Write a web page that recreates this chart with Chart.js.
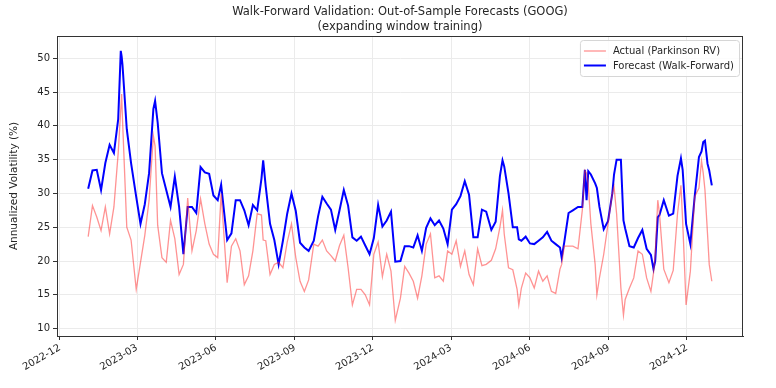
<!DOCTYPE html>
<html>
<head>
<meta charset="utf-8">
<title>Walk-Forward Validation</title>
<script src="https://cdn.jsdelivr.net/npm/chart.js@4.4.0/dist/chart.umd.min.js"></script>
<style>
    html, body { margin: 0; padding: 0; background: #fff; }
    #wrap { width: 776px; height: 388px; }
</style>
</head>
<body>
<div id="wrap"><canvas id="chart" width="776" height="388"></canvas></div>
<script>
// Sample dates (roughly every 5 days, extra points at peaks)
const dates = [
    '2023-01-03', '2023-01-08', '2023-01-13', '2023-01-18', '2023-01-23', '2023-01-28',
    '2023-02-02', '2023-02-07', '2023-02-10', '2023-02-11', '2023-02-12', '2023-02-17',
    '2023-02-22', '2023-02-28', '2023-03-05', '2023-03-10', '2023-03-15', '2023-03-20',
    '2023-03-22', '2023-03-25', '2023-03-30', '2023-04-04', '2023-04-09', '2023-04-14',
    '2023-04-19', '2023-04-24', '2023-04-29', '2023-05-04', '2023-05-09', '2023-05-14',
    '2023-05-19', '2023-05-24', '2023-05-29', '2023-06-03', '2023-06-07', '2023-06-14',
    '2023-06-19', '2023-06-24', '2023-06-29', '2023-07-04', '2023-07-09', '2023-07-14',
    '2023-07-19', '2023-07-24', '2023-07-26', '2023-07-29', '2023-08-03', '2023-08-08',
    '2023-08-13', '2023-08-18', '2023-08-23', '2023-08-28', '2023-09-02', '2023-09-07',
    '2023-09-12', '2023-09-17', '2023-09-23', '2023-09-28', '2023-10-03', '2023-10-08',
    '2023-10-13', '2023-10-18', '2023-10-23', '2023-10-28', '2023-11-02', '2023-11-07',
    '2023-11-12', '2023-11-17', '2023-11-22', '2023-11-27', '2023-12-02', '2023-12-07',
    '2023-12-12', '2023-12-17', '2023-12-22', '2023-12-27', '2024-01-02', '2024-01-07',
    '2024-01-12', '2024-01-17', '2024-01-22', '2024-01-27', '2024-02-01', '2024-02-06',
    '2024-02-11', '2024-02-16', '2024-02-21', '2024-02-26', '2024-03-02', '2024-03-07',
    '2024-03-12', '2024-03-17', '2024-03-22', '2024-03-27', '2024-04-01', '2024-04-06',
    '2024-04-11', '2024-04-17', '2024-04-22', '2024-04-27', '2024-04-30', '2024-05-02',
    '2024-05-07', '2024-05-12', '2024-05-17', '2024-05-19', '2024-05-22', '2024-05-27',
    '2024-06-01', '2024-06-06', '2024-06-11', '2024-06-16', '2024-06-21', '2024-06-26',
    '2024-07-01', '2024-07-06', '2024-07-08', '2024-07-11', '2024-07-16', '2024-07-21',
    '2024-07-27', '2024-08-01', '2024-08-04', '2024-08-06', '2024-08-08', '2024-08-11',
    '2024-08-16', '2024-08-18', '2024-08-21', '2024-08-26', '2024-08-31', '2024-09-05',
    '2024-09-07', '2024-09-10', '2024-09-15', '2024-09-18', '2024-09-20', '2024-09-25',
    '2024-09-30', '2024-10-05', '2024-10-10', '2024-10-15', '2024-10-20', '2024-10-23',
    '2024-10-25', '2024-10-28', '2024-10-30', '2024-11-04', '2024-11-10', '2024-11-15',
    '2024-11-20', '2024-11-24', '2024-11-26', '2024-11-30', '2024-12-05', '2024-12-10',
    '2024-12-15', '2024-12-18', '2024-12-20', '2024-12-22', '2024-12-25', '2024-12-27',
    '2024-12-30'
];

// Actual (Parkinson RV), %
const actualRV = [
    23.6, 28.2, 26.5, 24.5, 28.0, 24.0,
    28.0, 36.0, 42.5, 44.7, 41.0, 25.0,
    23.1, 15.8, 19.8, 23.8, 29.0, 38.5,
    37.0, 25.3, 20.5, 19.8, 26.0, 23.3,
    18.0, 19.5, 29.3, 21.5, 24.5, 29.2,
    25.5, 22.5, 21.0, 20.5, 30.0, 16.8,
    22.2, 23.3, 21.5, 16.5, 17.8, 21.5,
    27.0, 26.8, 23.1, 23.0, 18.0, 19.5,
    19.8, 19.0, 22.8, 25.5, 20.5, 17.0,
    15.5, 17.2, 22.5, 22.2, 23.1, 21.5,
    20.8, 20.0, 22.3, 23.8, 19.0, 13.5,
    15.8, 15.8, 15.0, 13.5, 21.0, 22.8,
    17.7, 21.0, 18.5, 11.2, 14.5, 19.2,
    18.2, 17.0, 14.5, 17.8, 22.5, 24.0,
    17.5, 17.8, 17.0, 21.5, 21.0, 23.0,
    19.2, 21.5, 18.0, 16.5, 21.8, 19.3,
    19.5, 20.1, 21.8, 25.0, 27.5, 24.0,
    19.0, 18.7, 15.8, 13.5, 16.0, 18.2,
    17.5, 16.0, 18.5, 17.0, 17.8, 15.5,
    15.2, 18.8, 19.5, 22.2, 22.2, 22.2,
    21.8, 27.5, 33.4, 33.0, 31.2, 25.5,
    19.5, 15.0, 17.5, 21.0, 25.5, 30.0,
    31.0, 27.0, 16.0, 12.0, 14.3, 16.0,
    17.5, 21.5, 21.0, 17.5, 15.5, 18.2,
    21.0, 29.0, 27.0, 18.8, 16.8, 18.6,
    27.0, 31.2, 26.0, 13.5, 18.5, 29.5,
    30.8, 34.8, 33.0, 30.5, 24.0, 19.5,
    17.0
];

// Forecast (Walk-Forward), %
const forecastWF = [
    30.7, 33.4, 33.5, 30.5, 34.5, 37.2,
    36.0, 41.0, 51.1, 50.3, 49.0, 39.5,
    34.5, 29.5, 25.5, 28.4, 33.0, 42.5,
    43.7, 40.5, 33.0, 30.5, 28.0, 32.5,
    28.0, 21.0, 28.0, 28.0, 27.1, 33.9,
    33.1, 32.9, 29.7, 29.0, 31.3, 23.1,
    24.1, 29.0, 29.0, 27.5, 25.3, 28.3,
    27.5, 32.2, 34.9, 31.0, 25.5, 23.1,
    19.5, 23.0, 27.0, 30.0, 27.4, 22.7,
    22.0, 21.5, 23.0, 26.6, 29.5, 28.5,
    27.6, 24.6, 27.5, 30.5, 28.2, 23.5,
    23.0, 23.6, 22.3, 21.0, 23.4, 28.3,
    25.1, 26.0, 27.3, 19.9, 20.0, 22.2,
    22.2, 22.0, 23.8, 21.5, 24.9, 26.3,
    25.3, 26.0, 24.8, 22.5, 27.6, 28.4,
    29.6, 31.8, 29.8, 23.5, 23.5, 27.6,
    27.3, 24.6, 25.8, 32.6, 34.9, 34.0,
    30.0, 25.0, 25.0, 23.2, 23.0, 23.6,
    22.6, 22.5, 23.0, 23.5, 24.3, 23.0,
    22.5, 22.0, 20.5, 22.8, 27.1, 27.5,
    28.0, 28.0, 33.5, 29.0, 33.3, 32.8,
    31.5, 30.8, 28.0, 24.7, 25.9, 30.0,
    32.8, 35.0, 35.0, 26.0, 24.8, 22.2,
    22.0, 23.4, 24.6, 21.8, 20.9, 18.8,
    20.0, 26.5, 26.8, 29.0, 26.7, 27.0,
    32.6, 35.2, 33.5, 25.5, 22.5, 29.5,
    35.4, 36.2, 37.6, 37.8, 34.4, 33.4,
    31.2
];

const xTickLabels = ['2022-12', '2023-03', '2023-06', '2023-09', '2023-12',
                     '2024-03', '2024-06', '2024-09', '2024-12'];
const yTickValues = [10, 15, 20, 25, 30, 35, 40, 45, 50];
const yLimits = [8.9, 53.3];

const titleLines = ['Walk-Forward Validation: Out-of-Sample Forecasts (GOOG)',
                    '(expanding window training)'];
const yAxisTitle = 'Annualized Volatility (%)';
const seriesLabels = ['Actual (Parkinson RV)', 'Forecast (Walk-Forward)'];

const FONT = "'DejaVu Sans', sans-serif";
const TEXT_COLOR = '#262626';

function toTime(s) {
    return Date.parse(s + 'T00:00:00Z');
}

function monthLabel(value) {
    const d = new Date(value);
    return d.getUTCFullYear() + '-' + String(d.getUTCMonth() + 1).padStart(2, '0');
}

const times = dates.map(toTime);
const span = times[times.length - 1] - times[0];
const xMin = times[0] - 0.05 * span;
const xMax = times[times.length - 1] + 0.05 * span;

// Frame, title and legend drawn on top like matplotlib does
const decorPlugin = {
    id: 'decor',
    afterDraw(chart) {
        const ctx = chart.ctx;
        const area = chart.chartArea;
        ctx.save();

        // axes frame
        ctx.strokeStyle = '#333';
        ctx.lineWidth = 1;
        ctx.strokeRect(Math.round(area.left) + 0.5, Math.round(area.top) + 0.5,
            Math.round(area.right - area.left) - 1, Math.round(area.bottom - area.top));

        // title
        ctx.fillStyle = TEXT_COLOR;
        ctx.font = '11.5px ' + FONT;
        ctx.textAlign = 'center';
        ctx.textBaseline = 'middle';
        const cx = (area.left + area.right) / 2;
        ctx.fillText(titleLines[0], cx, 12);
        ctx.fillText(titleLines[1], cx, 27);

        // legend
        ctx.font = '10px ' + FONT;
        const textW = Math.max(...chart.data.datasets.map(ds => ctx.measureText(ds.label).width));
        const boxW = 33 + textW + 5;
        const boxH = 36;
        const bx = area.right - 4 - boxW;
        const by = area.top + 4;
        ctx.beginPath();
        ctx.roundRect(bx + 0.5, by + 0.5, boxW, boxH, 3);
        ctx.fillStyle = 'rgba(255,255,255,0.85)';
        ctx.fill();
        ctx.strokeStyle = '#d6d6d6';
        ctx.stroke();

        chart.data.datasets.forEach((ds, i) => {
            const rowY = by + 11 + i * 14.5;
            ctx.beginPath();
            ctx.moveTo(bx + 4, rowY);
            ctx.lineTo(bx + 26, rowY);
            ctx.strokeStyle = ds.borderColor;
            ctx.lineWidth = ds.borderWidth;
            ctx.stroke();
            ctx.fillStyle = TEXT_COLOR;
            ctx.textAlign = 'left';
            ctx.fillText(ds.label, bx + 33, rowY + 0.5);
        });

        ctx.restore();
    }
};

const ctx = document.getElementById('chart').getContext('2d');
const chart = new Chart(ctx, {
    type: 'line',
    data: {
        datasets: [
            {
                label: seriesLabels[0],
                data: times.map((t, i) => ({ x: t, y: actualRV[i] })),
                borderColor: 'rgba(255, 40, 40, 0.5)',
                borderWidth: 1.3,
                pointRadius: 0,
                tension: 0
            },
            {
                label: seriesLabels[1],
                data: times.map((t, i) => ({ x: t, y: forecastWF[i] })),
                borderColor: '#0000ff',
                borderWidth: 2,
                pointRadius: 0,
                tension: 0
            }
        ]
    },
    options: {
        responsive: false,
        animation: false,
        layout: {
            padding: { top: 36, right: 33, bottom: 0, left: 0 }
        },
        plugins: {
            legend: { display: false },
            title: { display: false },
            tooltip: { enabled: false }
        },
        scales: {
            x: {
                type: 'linear',
                min: xMin,
                max: xMax,
                afterBuildTicks: scale => {
                    scale.ticks = xTickLabels.map(l => ({ value: toTime(l + '-01') }));
                },
                afterFit: scale => { scale.height = 52; },
                ticks: {
                    callback: value => monthLabel(value),
                    minRotation: 30,
                    maxRotation: 30,
                    autoSkip: false,
                    padding: 2,
                    color: TEXT_COLOR,
                    font: { size: 10, family: FONT }
                },
                grid: {
                    color: '#ebebeb',
                    tickColor: '#333',
                    tickLength: 4
                },
                border: { display: true, color: '#333' }
            },
            y: {
                min: yLimits[0],
                max: yLimits[1],
                afterBuildTicks: scale => {
                    scale.ticks = yTickValues.map(v => ({ value: v }));
                },
                afterFit: scale => { scale.width = 57; },
                ticks: {
                    padding: 3,
                    color: TEXT_COLOR,
                    font: { size: 10, family: FONT }
                },
                grid: {
                    color: '#ebebeb',
                    tickColor: '#333',
                    tickLength: 4
                },
                border: { display: true, color: '#333' },
                title: {
                    display: true,
                    text: yAxisTitle,
                    color: TEXT_COLOR,
                    padding: { top: 8, bottom: 0 },
                    font: { size: 10.5, family: FONT }
                }
            }
        }
    },
    plugins: [decorPlugin]
});
</script>
</body>
</html>
